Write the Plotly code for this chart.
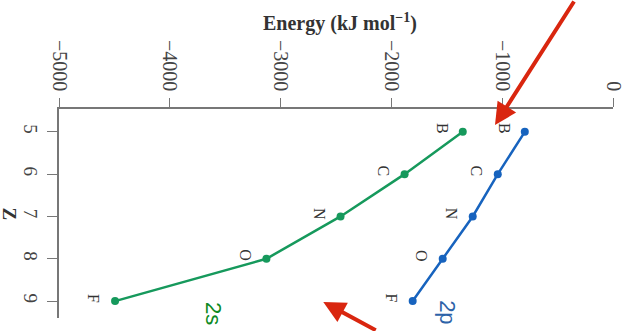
import plotly.graph_objects as go

Z = [5, 6, 7, 8, 9]
elements = ["B", "C", "N", "O", "F"]
e_2s = [-1356, -1881, -2459, -3128, -4494]
e_2p = [-796, -1040, -1266, -1537, -1808]
x_ticks = [-5000, -4000, -3000, -2000, -1000, 0]
x_ticktext = ["\u22125000", "\u22124000", "\u22123000", "\u22122000", "\u22121000", "0"]
z_ticks = [5, 6, 7, 8, 9]

GREEN = "#16995c"
BLUE = "#1763be"
RED = "#d9260f"
SERIF = "Liberation Serif"

fig = go.Figure()
fig.add_trace(go.Scatter(x=e_2s, y=Z, mode="lines+markers",
                         line=dict(color=GREEN, width=2.5),
                         marker=dict(color=GREEN, size=8), showlegend=False))
fig.add_trace(go.Scatter(x=e_2p, y=Z, mode="lines+markers",
                         line=dict(color=BLUE, width=2.5),
                         marker=dict(color=BLUE, size=8), showlegend=False))

ann = []
for xs, ys in ((e_2s, Z), (e_2p, Z)):
    for x, y, el in zip(xs, ys, elements):
        ann.append(dict(x=x, y=y, xref="x", yref="y", text=el, showarrow=False,
                        textangle=90, xshift=-21, yshift=3,
                        xanchor="center", yanchor="middle",
                        font=dict(family=SERIF, size=16, color="#333")))

ann.append(dict(x=0.5, y=1.0, xref="paper", yref="paper", yshift=87, xshift=4,
                text="<b>Energy (kJ mol<sup>\u22121</sup>)</b>", showarrow=False,
                font=dict(family=SERIF, size=20, color="#333"),
                xanchor="center", yanchor="middle"))
ann.append(dict(x=0, y=0.50, xref="paper", yref="paper", xshift=-50,
                text="<b>Z</b>", showarrow=False, textangle=90,
                font=dict(family=SERIF, size=19, color="#333"),
                xanchor="center", yanchor="middle"))
ann.append(dict(x=0.278, y=0.024, xref="paper", yref="paper", text="2s",
                showarrow=False, textangle=90, xanchor="center", yanchor="middle",
                font=dict(family="Liberation Sans", size=22, color="#0d8a22")))
ann.append(dict(x=0.700, y=0.029, xref="paper", yref="paper", text="2p",
                showarrow=False, textangle=90, xanchor="center", yanchor="middle",
                font=dict(family="Liberation Sans", size=22, color="#2d63a8")))
# red arrows
ann.append(dict(x=0.787, y=0.923, xref="paper", yref="paper", text="",
                showarrow=True, arrowhead=2, arrowsize=1.1, arrowwidth=4,
                arrowcolor=RED, ax=80, ay=-130, axref="pixel", ayref="pixel",
                standoff=0))
ann.append(dict(x=0.477, y=0.077, xref="paper", yref="paper", text="",
                showarrow=True, arrowhead=2, arrowsize=1.1, arrowwidth=4,
                arrowcolor=RED, ax=54, ay=41, axref="pixel", ayref="pixel",
                standoff=0))

fig.update_layout(
    width=634, height=331,
    margin=dict(l=59, r=21, t=109, b=13),
    paper_bgcolor="white", plot_bgcolor="white",
    annotations=ann,
    xaxis=dict(side="top", range=[-5000, 0], tickvals=x_ticks, ticktext=x_ticktext,
               tickangle=90, ticks="outside", ticklen=9, tickcolor="#777",
               showline=True, linecolor="#777", linewidth=1.5, showgrid=False,
               zeroline=False, automargin=False,
               tickfont=dict(family=SERIF, size=20, color="#444")),
    yaxis=dict(range=[9.4, 4.46], tickvals=z_ticks, tickangle=90,
               ticks="outside", ticklen=10, tickcolor="#777",
               showline=True, linecolor="#777", linewidth=1.5, showgrid=False,
               zeroline=False, automargin=False,
               tickfont=dict(family=SERIF, size=19, color="#444")),
)

fig.write_html("out.html", config={"displayModeBar": False},
               post_script="document.body.style.margin='0';document.body.style.overflow='hidden';")
